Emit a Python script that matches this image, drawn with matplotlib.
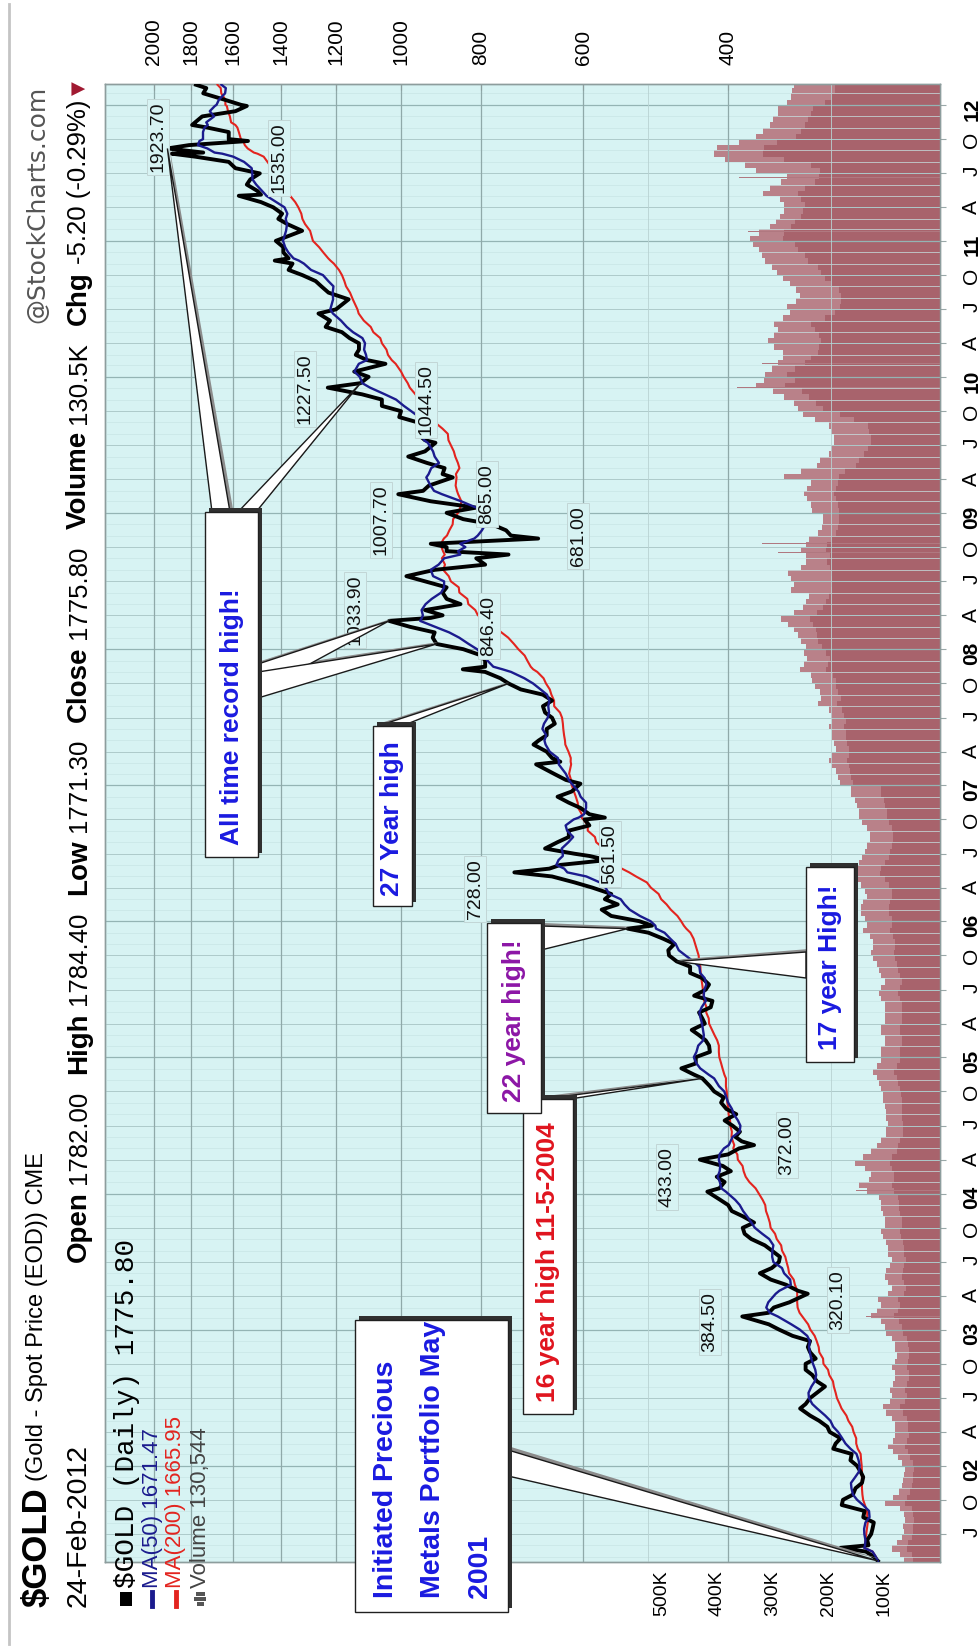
import numpy as np
import pandas as pd
import matplotlib
matplotlib.use("Agg")
import matplotlib.pyplot as plt
import matplotlib.dates as mdates
from matplotlib import font_manager
from matplotlib.patches import Rectangle, Polygon
from matplotlib.lines import Line2D
from matplotlib.ticker import FixedLocator, NullLocator

# ---------------------------------------------------------------- data
price_dates = [
    "2001-04-20", "2001-05-01", "2001-05-15", "2001-05-25", "2001-06-01", "2001-06-15",
    "2001-07-01", "2001-07-15", "2001-08-01", "2001-08-15", "2001-09-01", "2001-09-17",
    "2001-10-01", "2001-10-15", "2001-11-01", "2001-11-15", "2001-12-01", "2001-12-15",
    "2002-01-01", "2002-01-15", "2002-02-01", "2002-02-15", "2002-03-01", "2002-03-15",
    "2002-04-01", "2002-04-15", "2002-05-01", "2002-05-15", "2002-06-03", "2002-06-15",
    "2002-07-01", "2002-07-15", "2002-08-01", "2002-08-15", "2002-09-01", "2002-09-15",
    "2002-10-01", "2002-10-15", "2002-11-01", "2002-11-15", "2002-12-01", "2002-12-15",
    "2003-01-01", "2003-01-15", "2003-02-05", "2003-02-15", "2003-03-01", "2003-03-15",
    "2003-04-07", "2003-04-15", "2003-05-01", "2003-05-15", "2003-06-01", "2003-06-15",
    "2003-07-01", "2003-07-15", "2003-08-01", "2003-08-15", "2003-09-01", "2003-09-15",
    "2003-10-01", "2003-10-15", "2003-11-01", "2003-11-15", "2003-12-01", "2003-12-15",
    "2004-01-06", "2004-01-15", "2004-02-01", "2004-02-15", "2004-03-01", "2004-03-15",
    "2004-04-01", "2004-04-15", "2004-05-01", "2004-05-10", "2004-05-20", "2004-06-01",
    "2004-06-15", "2004-07-01", "2004-07-15", "2004-08-01", "2004-08-15", "2004-09-01",
    "2004-09-15", "2004-10-01", "2004-10-15", "2004-11-05", "2004-11-15", "2004-12-02",
    "2004-12-15", "2005-01-01", "2005-01-15", "2005-02-01", "2005-02-15", "2005-03-01",
    "2005-03-15", "2005-04-01", "2005-04-15", "2005-05-01", "2005-05-15", "2005-06-01",
    "2005-06-15", "2005-07-01", "2005-07-15", "2005-08-01", "2005-08-15", "2005-09-01",
    "2005-09-15", "2005-10-01", "2005-10-15", "2005-11-01", "2005-11-15", "2005-12-01",
    "2005-12-12", "2005-12-20", "2006-01-01", "2006-01-15", "2006-02-01", "2006-02-15",
    "2006-03-01", "2006-03-15", "2006-04-01", "2006-04-15", "2006-05-01", "2006-05-12",
    "2006-05-22", "2006-06-01", "2006-06-14", "2006-06-25", "2006-07-01", "2006-07-15",
    "2006-08-01", "2006-08-15", "2006-09-01", "2006-09-15", "2006-10-01", "2006-10-06",
    "2006-10-15", "2006-11-01", "2006-11-15", "2006-12-01", "2006-12-15", "2007-01-05",
    "2007-01-15", "2007-02-01", "2007-02-26", "2007-03-05", "2007-03-15", "2007-04-01",
    "2007-04-20", "2007-05-01", "2007-05-15", "2007-06-01", "2007-06-15", "2007-07-01",
    "2007-07-15", "2007-08-01", "2007-08-16", "2007-09-01", "2007-09-15", "2007-10-01",
    "2007-10-15", "2007-11-01", "2007-11-08", "2007-11-15", "2007-12-01", "2007-12-15",
    "2008-01-01", "2008-01-15", "2008-02-01", "2008-02-15", "2008-03-01", "2008-03-17",
    "2008-03-25", "2008-04-01", "2008-04-15", "2008-05-01", "2008-05-15", "2008-06-01",
    "2008-06-15", "2008-07-01", "2008-07-15", "2008-08-01", "2008-08-15", "2008-09-01",
    "2008-09-11", "2008-09-20", "2008-10-01", "2008-10-10", "2008-10-24", "2008-11-01",
    "2008-11-15", "2008-12-01", "2008-12-15", "2009-01-01", "2009-01-15", "2009-02-01",
    "2009-02-20", "2009-03-01", "2009-03-15", "2009-04-06", "2009-04-15", "2009-05-01",
    "2009-05-15", "2009-06-01", "2009-06-15", "2009-07-08", "2009-07-15", "2009-08-01",
    "2009-08-15", "2009-09-01", "2009-09-15", "2009-10-01", "2009-10-15", "2009-11-01",
    "2009-11-15", "2009-12-03", "2009-12-15", "2010-01-01", "2010-01-15", "2010-02-05",
    "2010-02-15", "2010-03-01", "2010-03-15", "2010-04-01", "2010-04-15", "2010-05-01",
    "2010-05-15", "2010-06-01", "2010-06-20", "2010-07-01", "2010-07-28", "2010-08-15",
    "2010-09-01", "2010-09-15", "2010-10-01", "2010-10-15", "2010-11-01", "2010-11-09",
    "2010-11-15", "2010-12-01", "2010-12-15", "2011-01-01", "2011-01-28", "2011-02-15",
    "2011-03-01", "2011-03-15", "2011-04-01", "2011-04-15", "2011-05-02", "2011-05-05",
    "2011-05-15", "2011-06-01", "2011-06-15", "2011-07-01", "2011-07-15", "2011-08-01",
    "2011-08-15", "2011-08-23", "2011-08-26", "2011-09-06", "2011-09-15", "2011-09-26",
    "2011-10-01", "2011-10-20", "2011-11-01", "2011-11-08", "2011-11-15", "2011-12-01",
    "2011-12-15", "2011-12-29", "2012-01-01", "2012-01-15", "2012-02-01", "2012-02-15",
    "2012-02-24",
]
price_close = [
    263, 266, 272, 292, 270, 271,
    268, 267, 266, 274, 273, 291,
    290, 282, 280, 275, 274, 276,
    279, 284, 283, 298, 296, 292,
    301, 303, 310, 318, 327, 322,
    318, 312, 305, 312, 316, 322,
    322, 313, 318, 320, 318, 334,
    347, 357, 384.5, 357, 352, 337,
    320.1, 329, 340, 355, 366, 354,
    347, 346, 354, 361, 375, 382,
    384, 372, 384, 396, 400, 409,
    424, 410, 404, 413, 397, 406,
    433.0, 400, 388, 372.0, 385, 392,
    387, 395, 404, 391, 402, 408,
    405, 416, 421, 430, 440, 456,
    438, 438, 421, 422, 426, 434,
    443, 427, 430, 434, 420, 418,
    440, 426, 422, 430, 445, 445,
    462, 472, 473, 465, 480, 500,
    530, 495, 513, 555, 570, 545,
    565, 555, 585, 615, 655, 728.0,
    660, 640, 561.5, 590, 615, 668,
    645, 625, 625, 590, 598, 565,
    590, 605, 625, 645, 620, 605,
    630, 652, 685, 640, 655, 665,
    690, 680, 665, 665, 650, 655,
    668, 672, 655, 672, 715, 740,
    757, 790, 841, 790, 790, 798,
    840, 905, 915, 910, 975, 1033.9,
    920, 890, 935, 846.4, 880, 890,
    880, 935, 985, 910, 790, 810,
    740, 880, 880, 920, 681.0, 735,
    745, 775, 840, 880, 810, 920,
    1007.7, 940, 925, 865.0, 890, 885,
    930, 980, 935, 908, 935, 955,
    945, 955, 1005, 1000, 1055, 1055,
    1115, 1227.5, 1120, 1095, 1140, 1044.5,
    1100, 1135, 1125, 1125, 1155, 1180,
    1235, 1220, 1260, 1200, 1158, 1225,
    1250, 1270, 1318, 1370, 1355, 1424,
    1370, 1390, 1390, 1420, 1319, 1375,
    1410, 1395, 1430, 1480, 1575, 1480,
    1495, 1540, 1525, 1485, 1590, 1620,
    1780, 1900, 1740, 1923.7, 1810, 1535.0,
    1620, 1620, 1720, 1795, 1780, 1745,
    1590, 1540, 1565, 1640, 1740, 1725,
    1775.8,
]

# volume in thousands of contracts, one value per half month from 2001-04-15
volume_core_k = [
    48, 51, 60, 58, 51, 48, 48, 46, 48, 51, 63, 60, 54, 51, 48, 48, 46,
    48, 53, 58, 63, 60, 55, 58, 58, 60, 67, 71, 63, 60, 63, 59, 55, 55, 60, 58, 55, 55, 58, 60, 67,
    69, 74, 83, 76, 71, 76, 64, 61, 64, 69, 67, 64, 61, 64, 64, 67, 70, 71, 69, 69, 71, 74, 74, 76,
    83, 87, 83, 83, 87, 90, 87, 78, 75, 71, 67, 67, 67, 68, 68, 69, 69, 70, 71, 75, 78, 83, 78, 72,
    72, 72, 69, 69, 72, 72, 69, 69, 69, 69, 72, 75, 72, 69, 72, 75, 78, 80, 83, 80, 80, 84, 90, 87,
    87, 92, 92, 90, 87, 87, 92, 99, 108, 105, 98, 92, 90, 87, 84, 84, 87, 92, 95, 95, 99, 101, 105, 105,
    156, 159, 161, 164, 167, 164, 164, 167, 169, 169, 172, 169, 172, 175, 185, 178, 183, 187, 187, 192, 205, 201, 198, 205,
    212, 218, 220, 222, 228, 234, 220, 210, 205, 200, 193, 195, 193, 195, 198, 202, 198, 205, 202, 195, 187, 183, 181, 181,
    181, 183, 187, 190, 187, 183, 181, 170, 150, 146, 137, 130, 123, 123, 128, 130, 155, 180, 210, 222, 235, 248, 278, 260,
    274, 261, 243, 231, 219, 217, 213, 217, 225, 231, 207, 189, 180, 177, 177, 182, 195, 207, 213, 219, 237, 243, 255, 261,
    282, 280, 268, 261, 249, 246, 243, 249, 255, 243, 225, 217, 216, 231, 280, 318, 316, 292, 259, 249, 243, 237, 231, 228,
    207, 195, 189, 188,
]
volume_high_k = [
    65, 72, 87, 78, 69, 65, 67, 62, 65, 72, 99, 85, 74, 69, 67, 65, 62,
    69, 75, 84, 94, 84, 80, 81, 80, 87, 96, 102, 90, 87, 90, 84, 80, 80, 87, 81, 78, 80, 81, 87, 96,
    99, 105, 123, 113, 105, 111, 94, 87, 93, 99, 96, 90, 87, 93, 93, 96, 102, 105, 99, 99, 102, 105, 105, 110,
    131, 146, 128, 123, 134, 152, 138, 123, 113, 105, 96, 96, 94, 96, 96, 99, 102, 102, 105, 110, 113, 120, 113, 105,
    105, 105, 99, 99, 105, 105, 99, 99, 99, 99, 105, 110, 105, 99, 105, 110, 113, 120, 123, 120, 120, 125, 138, 131,
    134, 142, 142, 138, 131, 134, 142, 152, 164, 160, 146, 140, 134, 131, 125, 125, 131, 140, 146, 146, 149, 152, 160, 160,
    180, 183, 187, 193, 199, 193, 187, 190, 193, 193, 199, 193, 196, 200, 218, 213, 216, 225, 230, 232, 251, 244, 239, 244,
    240, 250, 255, 262, 272, 285, 262, 245, 240, 235, 268, 262, 268, 272, 250, 240, 240, 250, 240, 235, 218, 212, 210, 210,
    230, 232, 239, 244, 239, 232, 280, 250, 220, 215, 200, 195, 190, 190, 195, 200, 225, 245, 255, 262, 280, 300, 330, 315,
    314, 302, 291, 281, 281, 298, 308, 298, 291, 298, 281, 269, 274, 258, 252, 258, 269, 281, 293, 302, 314, 319, 325, 336,
    340, 325, 305, 295, 287, 280, 280, 287, 318, 305, 285, 275, 330, 350, 385, 405, 400, 360, 330, 318, 305, 300, 290, 290,
    275, 268, 265, 262,
]
volume_spike_dates = [
    "2003-02-05", "2004-01-09", "2004-03-31", "2008-01-15", "2008-03-17", "2008-09-17",
    "2008-10-10", "2009-12-04", "2010-02-05", "2010-05-07", "2011-01-27", "2011-06-20",
    "2011-08-22", "2011-09-26",
]
volume_spike_k = [132, 150, 155, 290, 300, 290, 320, 364, 320, 320, 345, 360, 409, 395]

price_ticks = [2000, 1800, 1600, 1400, 1200, 1000, 800, 600, 400]
price_minor_ticks = [500, 300]
volume_ticks_k = [100, 200, 300, 400, 500]

# highs and lows that carry a value label
noted_dates = [
    "2003-02-05", "2003-04-07", "2004-04-01", "2004-05-10", "2006-05-12", "2006-06-14",
    "2008-03-17", "2008-05-01", "2008-10-24", "2009-02-20", "2009-04-06", "2009-12-03",
    "2010-02-05", "2011-09-06", "2011-09-26",
]

# ---------------------------------------------------------------- fonts
avail = {f.name for f in font_manager.fontManager.ttflist}
SANS = "Liberation Sans" if "Liberation Sans" in avail else "DejaVu Sans"
NARROW = "Liberation Sans Narrow" if "Liberation Sans Narrow" in avail else SANS
MONO = "Liberation Mono" if "Liberation Mono" in avail else "DejaVu Sans Mono"

# ---------------------------------------------------------------- figure
W, H = 980, 1648
fig = plt.figure(figsize=(W / 100, H / 100), dpi=100)
fig.patch.set_facecolor("white")


def fx(x):
    return x / W


def fy(y):
    return 1 - y / H


L, R, T, B = 105, 940, 84, 1562
axv = fig.add_axes([L / W, 1 - B / H, (R - L) / W, (B - T) / H])
axv.set_facecolor("#d7f3f3")
axp = axv.twiny()
axp.patch.set_visible(False)

t_lo = mdates.date2num(pd.Timestamp("2001-04-17"))
t_hi = mdates.date2num(pd.Timestamp("2012-02-26"))
axv.set_ylim(t_lo, t_hi)

axp.set_xscale("log")
axp.set_xlim(2291, 221)
axv.set_xlim(1498, 0)

# ---------------------------------------------------------------- series
s = pd.Series(price_close, index=pd.to_datetime(price_dates), dtype=float)
ma50 = s.rolling("72D", min_periods=1).mean()
ma200 = s.rolling("290D", min_periods=1).mean()
dn = mdates.date2num(s.index)

# grid: months, quarters, years
for m in pd.date_range("2001-05-01", "2012-02-01", freq="MS"):
    if m.month == 1:
        c, lw = "#94b4b4", 0.9
    elif m.month in (4, 7, 10):
        c, lw = "#adcaca", 0.7
    else:
        c, lw = "#c8e5e5", 0.5
    axp.axhline(mdates.date2num(m), color=c, lw=lw, zorder=1)
for p in price_ticks:
    axp.axvline(p, color="#8fa9a9", lw=0.9, zorder=1)
for p in price_minor_ticks:
    axp.axvline(p, color="#b8d2d2", lw=0.6, zorder=1)

# volume
vdates = pd.date_range("2001-04-15", periods=len(volume_core_k), freq="SMS")
vnum = mdates.date2num(vdates)
vstep = np.diff(np.append(vnum, vnum[-1] + 14))
axv.barh(vnum, volume_high_k, height=vstep, align="edge", color="#b98189", lw=0, zorder=2)
axv.barh(vnum, volume_core_k, height=vstep, align="edge", color="#a8636c", lw=0, zorder=3)
axv.barh(mdates.date2num(pd.to_datetime(volume_spike_dates)), volume_spike_k, height=2.0,
         align="center", color="#b07880", lw=0, zorder=3)

# price and moving averages
axp.plot(ma200.values, dn, color="#e3241f", lw=1.5, zorder=4)
axp.plot(s.values, dn, color="black", lw=2.8, zorder=5)
axp.plot(ma50.values, dn, color="#1b1b8e", lw=1.7, zorder=6)

# ---------------------------------------------------------------- axes cosmetics
for sp in list(axv.spines.values()) + list(axp.spines.values()):
    sp.set_color("#8d9d9d")
    sp.set_linewidth(1.0)

axp.xaxis.set_major_locator(FixedLocator(price_ticks))
axp.xaxis.set_minor_locator(NullLocator())
axp.set_xticklabels([str(p) for p in price_ticks])
axp.tick_params(axis="x", which="both", top=True, bottom=False, labeltop=True,
                labelbottom=False, length=4, direction="in", color="#8d9d9d", pad=14,
                labelsize=15, labelrotation=90)
for lab in axp.get_xticklabels():
    lab.set_fontfamily(SANS)

axv.xaxis.set_major_locator(FixedLocator(volume_ticks_k))
axv.set_xticklabels([f"{v}K" for v in volume_ticks_k])
axv.tick_params(axis="x", which="both", bottom=True, top=False, length=0, pad=6,
                labelsize=14, labelrotation=90)
for lab in axv.get_xticklabels():
    lab.set_fontfamily(SANS)

qticks = pd.date_range("2001-07-01", "2012-01-01", freq="QS")
qlabels = [f"{d.year % 100:02d}" if d.month == 1 else {4: "A", 7: "J", 10: "O"}[d.month]
           for d in qticks]
axv.yaxis.tick_right()
axv.set_yticks(mdates.date2num(qticks))
axv.set_yticklabels(qlabels)
axv.tick_params(axis="y", which="both", right=True, left=False, length=4, direction="out",
                color="#9aa8a8", pad=12, labelsize=15, labelrotation=90)
for lab, d in zip(axv.get_yticklabels(), qticks):
    lab.set_fontfamily(SANS)
    if d.month == 1:
        lab.set_fontweight("bold")


# ---------------------------------------------------------------- helpers
def vtext(x, y, s_, **kw):
    """Text reading bottom-to-top, starting at pixel (x, y)."""
    base = dict(rotation=90, rotation_mode="anchor", ha="left", va="center")
    base.update(kw)
    return fig.text(fx(x), fy(y), s_, **base)


def chain(x, y, pieces):
    """Place consecutive rotated pieces upward from pixel (x, y)."""
    r = fig.canvas.get_renderer()
    for s_, gap, kw in pieces:
        y -= gap
        t = vtext(x, y, s_, **kw)
        y -= t.get_window_extent(r).height
    return y


def tip_px(date):
    ts = pd.Timestamp(date)
    X, Y = axp.transData.transform((s.loc[ts], mdates.date2num(ts)))
    return X, H - Y


def poly(pts, **kw):
    fig.add_artist(Polygon([(fx(a), fy(b)) for a, b in pts], closed=True,
                           transform=fig.transFigure, **kw))


def callout(box, pointers):
    x0, y0, x1, y1 = box
    for (b1, b2, d) in pointers:
        tx, ty = tip_px(d)
        poly([(b1[0] + 3, b1[1] - 3), (b2[0] + 3, b2[1] - 3), (tx + 2, ty - 2)],
             facecolor="#8c8c8c", edgecolor="none", zorder=18)
        poly([b1, b2, (tx, ty)], facecolor="white", edgecolor="#1a1a1a", lw=1.0, zorder=19)
    fig.add_artist(Rectangle((fx(x0 + 4), fy(y1 - 4)), (x1 - x0) / W, (y1 - y0) / H,
                             transform=fig.transFigure, facecolor="#303030",
                             edgecolor="none", zorder=20))
    fig.add_artist(Rectangle((fx(x0), fy(y1)), (x1 - x0) / W, (y1 - y0) / H,
                             transform=fig.transFigure, facecolor="white",
                             edgecolor="#202020", lw=1.0, zorder=21))


# ---------------------------------------------------------------- value labels
label_pos = {
    "2003-02-05": (710, 1322), "2003-04-07": (838, 1300), "2004-04-01": (667, 1177),
    "2004-05-10": (787, 1145), "2006-05-12": (475, 889), "2006-06-14": (610, 854),
    "2008-03-17": (355, 610), "2008-05-01": (489, 626), "2008-10-24": (578, 536),
    "2009-02-20": (381, 520), "2009-04-06": (487, 494), "2009-12-03": (305, 389),
    "2010-02-05": (426, 400), "2011-09-06": (158, 137), "2011-09-26": (279, 158),
}
for d in noted_dates:
    x, y = label_pos[d]
    fig.text(fx(x), fy(y), f"{s.loc[pd.Timestamp(d)]:.2f}", rotation=90, ha="center",
             va="center", fontsize=14, family=NARROW, color="#111111", zorder=15,
             bbox=dict(boxstyle="square,pad=0.15", facecolor="#d7f3f3", edgecolor="#c2d6d6", lw=0.7))

# ---------------------------------------------------------------- callouts
BLUE = "#1a1ae0"
callout((355, 1320, 508, 1612), [((508, 1450), (508, 1476), price_dates[0])])
for lx, line in zip((386, 433, 480), ("Initiated Precious", "Metals Portfolio May", "2001")):
    vtext(lx, 1598, line, fontsize=20.5, fontweight="bold", family=NARROW, color=BLUE, zorder=22)

callout((523, 1099, 573, 1414), [((543, 1099), (570, 1099), "2004-11-05")])
vtext(548, 1402, "16 year high 11-5-2004", fontsize=19, fontweight="bold", family=NARROW,
      color="#e0141e", zorder=22)

callout((487, 923, 541, 1113), [((541, 926), (541, 950), "2005-12-12")])
vtext(514, 1102, "22 year high!", fontsize=19, fontweight="bold", family=NARROW,
      color="#8c16a6", zorder=22)

callout((806, 867, 854, 1062), [((806, 952), (806, 978), "2005-09-15")])
vtext(830, 1050, "17 year High!", fontsize=19, fontweight="bold", family=NARROW,
      color=BLUE, zorder=22)

callout((373, 726, 412, 906), [((378, 726), (402, 726), "2007-10-01")])
vtext(392, 896, "27 Year high", fontsize=19, fontweight="bold", family=NARROW,
      color=BLUE, zorder=22)

callout((205, 512, 258, 857), [((258, 664), (258, 692), "2008-03-17"),
                               ((258, 672), (258, 698), "2008-01-15"),
                               ((212, 512), (230, 512), "2011-09-06"),
                               ((238, 512), (256, 512), "2009-12-15")])
vtext(232, 845, "All time record high!", fontsize=19, fontweight="bold", family=NARROW,
      color=BLUE, zorder=22)

# ---------------------------------------------------------------- header
fig.add_artist(Line2D([fx(9), fx(9)], [fy(4), fy(1644)], transform=fig.transFigure,
                      color="#c4c4c4", lw=2))
chain(37, 1607, [("$GOLD", 0, dict(fontsize=25, fontweight="bold", family=SANS)),
                 ("(Gold - Spot Price (EOD)) CME", 6, dict(fontsize=17, family=SANS))])
vtext(37, 86, "@StockCharts.com", ha="right", fontsize=18, family="DejaVu Sans",
      color="#555555")
vtext(79, 1607, "24-Feb-2012", fontsize=20.5, family=SANS)
bold = dict(fontsize=20, fontweight="bold", family=SANS)
reg = dict(fontsize=18.5, family=SANS)
chain(79, 1262, [("Open", 0, bold), ("1782.00", 7, reg), ("High", 17, bold), ("1784.40", 7, reg),
                 ("Low", 17, bold), ("1771.30", 7, reg), ("Close", 17, bold), ("1775.80", 7, reg),
                 ("Volume", 17, bold), ("130.5K", 7, reg), ("Chg", 17, bold),
                 ("-5.20 (-0.29%)", 7, reg), ("\u25bc", 5, dict(fontsize=13, color="#a01830"))])

# legend inside the plot
fig.add_artist(Rectangle((fx(120), fy(1606)), 12 / W, 14 / H, transform=fig.transFigure,
                         facecolor="black", edgecolor="none", zorder=12))
vtext(127, 1588, "$GOLD (Daily) 1775.80", fontsize=20, family=MONO, zorder=12)
fig.add_artist(Line2D([fx(152), fx(152)], [fy(1606), fy(1592)], transform=fig.transFigure,
                      color="#1b1b8e", lw=3.5, zorder=12))
vtext(152, 1588, "MA(50) 1671.47", fontsize=16, family=SANS, color="#1b1b8e", zorder=12)
fig.add_artist(Line2D([fx(176), fx(176)], [fy(1606), fy(1592)], transform=fig.transFigure,
                      color="#e3241f", lw=3.5, zorder=12))
vtext(176, 1588, "MA(200) 1665.95", fontsize=16, family=SANS, color="#e3241f", zorder=12)
for i, hgt in enumerate((7, 12, 9)):
    fig.add_artist(Rectangle((fx(200 - hgt / 2), fy(1606 - 5 * i)), hgt / W, 4 / H,
                             transform=fig.transFigure, facecolor="#555555",
                             edgecolor="none", zorder=12))
vtext(200, 1588, "Volume 130,544", fontsize=16, family=SANS, color="#444444", zorder=12)

fig.savefig("out.png", dpi=100, facecolor="white")
